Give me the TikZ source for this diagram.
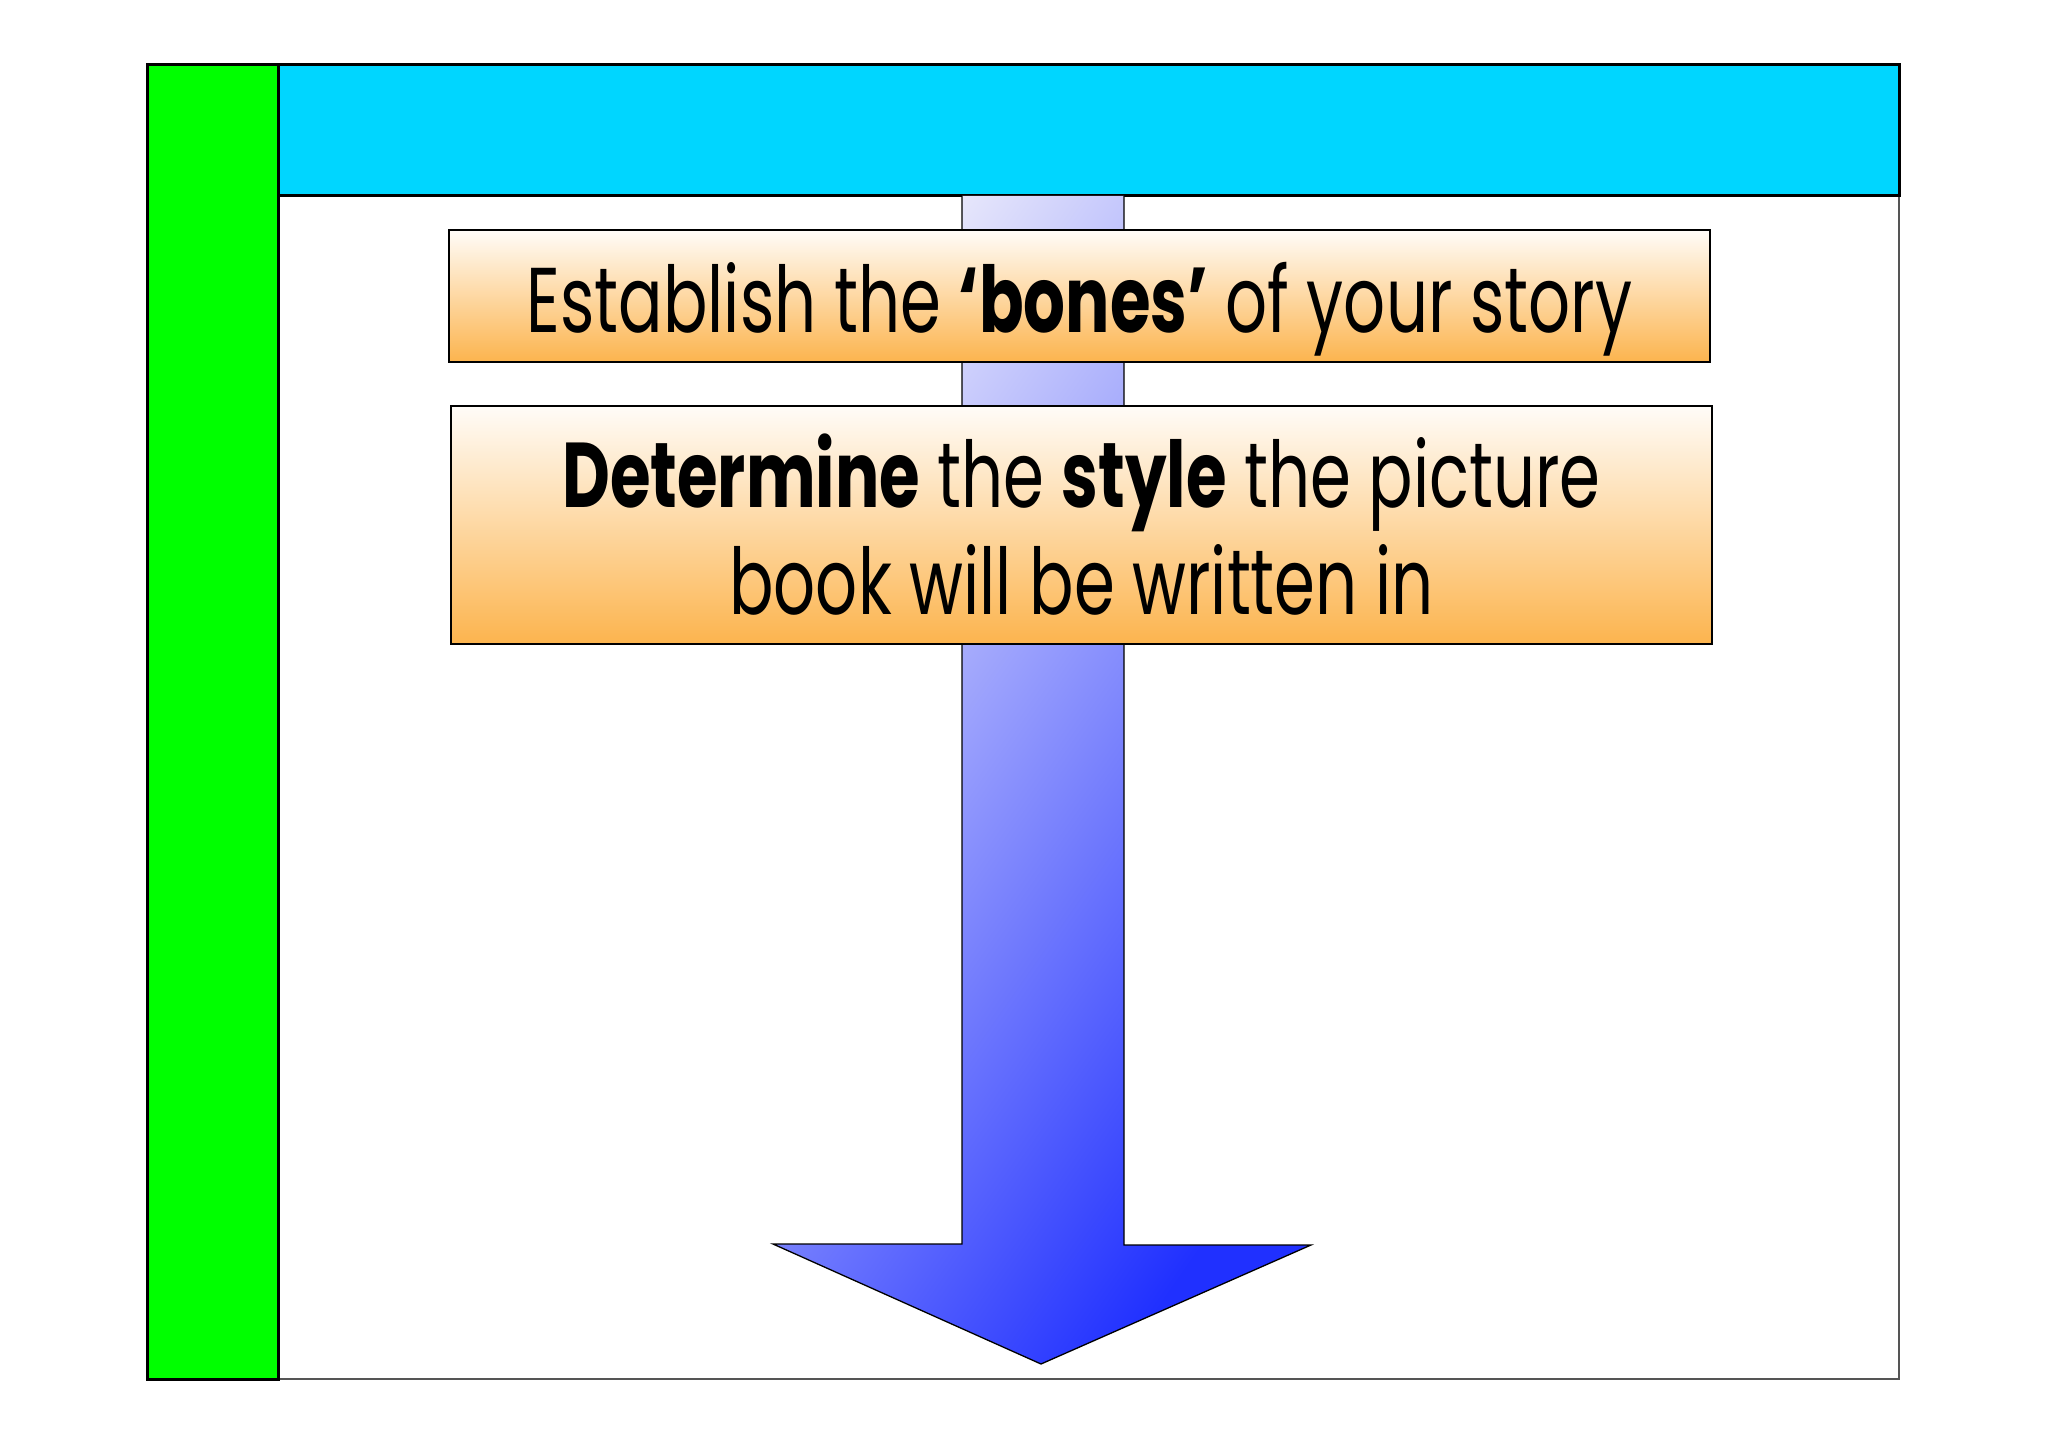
\documentclass[tikz,border=0pt]{standalone}
\usepackage{fontspec}
\newfontfamily\gothic[FakeStretch=0.715]{Poppins}
\begin{document}
\begin{tikzpicture}[x=1pt,y=-1pt,
  framefill/.style={draw=black,line width=3pt},
  boxstyle/.style={draw=black,line width=2pt,top color=orangetop,bottom color=orangebot,
    inner sep=0pt,align=center,font=\gothic\fontsize{92}{107}\selectfont},
  arrowstyle/.style={draw=black,line width=1.3pt,top color=arrowtop,bottom color=arrowbot,shading angle=55}]
\definecolor{greenbar}{HTML}{00FF00}
\definecolor{cyanbar}{HTML}{00D6FF}
\definecolor{orangetop}{HTML}{FFFCF8}
\definecolor{orangebot}{HTML}{FCB44E}
\definecolor{arrowtop}{HTML}{E6E6FB}
\definecolor{arrowbot}{HTML}{2030FF}
\definecolor{framegray}{HTML}{555555}
\useasboundingbox (0,0) rectangle (2048,1447);
\fill[white] (0,0) rectangle (2048,1447);
% frame
\draw[framegray,line width=1.5pt] (1899,196) -- (1899,1379) -- (278,1379);
\draw[framefill,fill=greenbar] (147,65) rectangle (278,1379);
\draw[framefill,fill=cyanbar] (278,65) rectangle (1899,196);
% arrow
\coordinate (sl) at (962,196);
\coordinate (sr) at (1124,196);
\coordinate (hl) at (773,1244);
\coordinate (hr) at (1311,1245);
\coordinate (tip) at (1041,1364);
\shade[arrowstyle] (sl) -- (962,1244) -- (hl) -- (tip) -- (hr) -- (1124,1245) -- (sr);
% boxes
\node[boxstyle,minimum width=1261pt,minimum height=132pt] (b1) at (1079.5,296)
  {\raisebox{-13pt}[\height][\depth]{Establish the \textbf{‘bones’} of your story}};
\node[boxstyle,minimum width=1261pt,minimum height=238pt] (b2) at (1081.5,525)
  {\textbf{Determine} the \textbf{style} the picture\\book will be written in};
\end{tikzpicture}
\end{document}
